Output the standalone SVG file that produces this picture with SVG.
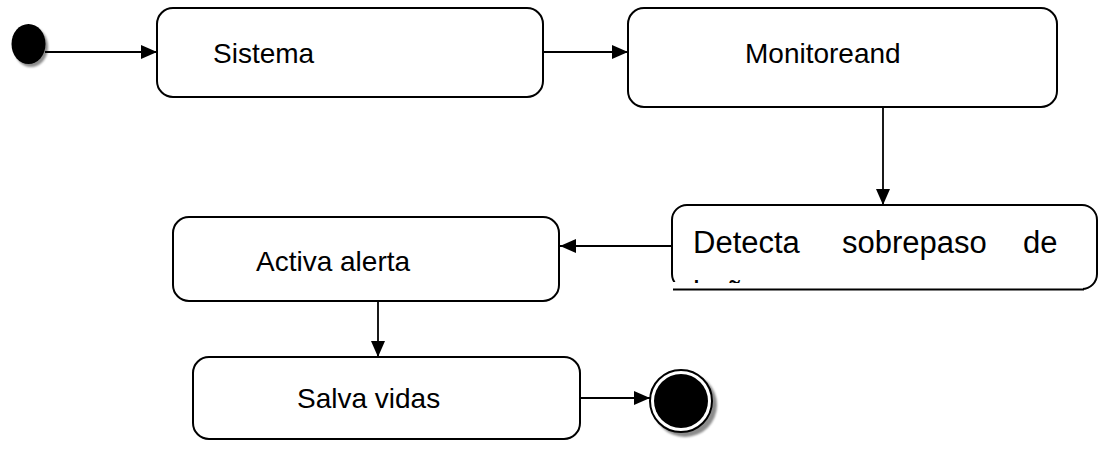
<svg xmlns="http://www.w3.org/2000/svg" width="1104" height="472" viewBox="0 0 1104 472">
  <style>
    .state { fill: #ffffff; stroke: #000000; stroke-width: 2; }
    .label { font-family: "Liberation Sans", Arial, sans-serif; font-size: 28px; fill: #000000; }
    .big { font-size: 31px; }
    .edge { stroke: #000000; stroke-width: 1.8; fill: none; marker-end: url(#arrow); }
    .shadow { fill: #8c8c8c; }
  </style>
  <defs>
    <marker id="arrow" viewBox="0 0 16 14" refX="16" refY="7" markerWidth="16" markerHeight="14" markerUnits="userSpaceOnUse" orient="auto">
      <path d="M0,0 L16,7 L0,14 Z" fill="#000000"/>
    </marker>
    <clipPath id="detectaClip">
      <rect x="672" y="205" width="425" height="78"/>
    </clipPath>
    <filter id="soft" x="-20%" y="-20%" width="140%" height="140%">
      <feGaussianBlur stdDeviation="1.2"/>
    </filter>
  </defs>

  <!-- initial pseudo-state -->
  <g id="start">
    <ellipse class="shadow" cx="31" cy="47" rx="17" ry="20" filter="url(#soft)"/>
    <ellipse cx="28.5" cy="44" rx="17" ry="20" fill="#000000"/>
  </g>

  <g id="sistema">
    <rect class="state" x="157" y="8" width="386" height="89" rx="16"/>
    <text class="label" x="213" y="63">Sistema</text>
  </g>

  <g id="monitoreand">
    <rect class="state" x="628" y="8" width="429" height="99" rx="16"/>
    <text class="label" x="745" y="63">Monitoreand</text>
  </g>

  <g id="detecta">
    <rect class="state" x="672" y="205" width="425" height="84" rx="15"/>
    <!-- text frame laid over the lower-left corner -->
    <rect x="671" y="282" width="412" height="9" fill="#ffffff"/>
    <line x1="673" y1="289.5" x2="1084" y2="289.5" stroke="#000000" stroke-width="2"/>
    <g clip-path="url(#detectaClip)">
      <text class="label big" x="693" y="253">Detecta</text>
      <text class="label big" x="842" y="253">sobrepaso</text>
      <text class="label big" x="1023" y="253">de</text>
      <text class="label big" x="693" y="303">la ñ</text>
    </g>
  </g>

  <g id="activa">
    <rect class="state" x="173" y="217" width="386" height="84" rx="16"/>
    <text class="label" x="256" y="271">Activa alerta</text>
  </g>

  <g id="salva">
    <rect class="state" x="193" y="357" width="387" height="82" rx="16"/>
    <text class="label" x="297" y="408">Salva vidas</text>
  </g>

  <!-- final pseudo-state -->
  <g id="end">
    <circle class="shadow" cx="685" cy="405" r="32" filter="url(#soft)"/>
    <circle cx="681" cy="401" r="31" fill="#ffffff" stroke="#000000" stroke-width="2"/>
    <circle cx="681" cy="401" r="27" fill="#000000"/>
  </g>

  <g id="connectors">
    <line class="edge" x1="45" y1="52" x2="157" y2="52"/>
    <line class="edge" x1="543" y1="52" x2="628" y2="52"/>
    <line class="edge" x1="883" y1="107" x2="883" y2="205"/>
    <line class="edge" x1="672" y1="246" x2="560" y2="246"/>
    <line class="edge" x1="378" y1="301" x2="378" y2="357"/>
    <line class="edge" x1="580" y1="398" x2="650" y2="398"/>
  </g>
</svg>
